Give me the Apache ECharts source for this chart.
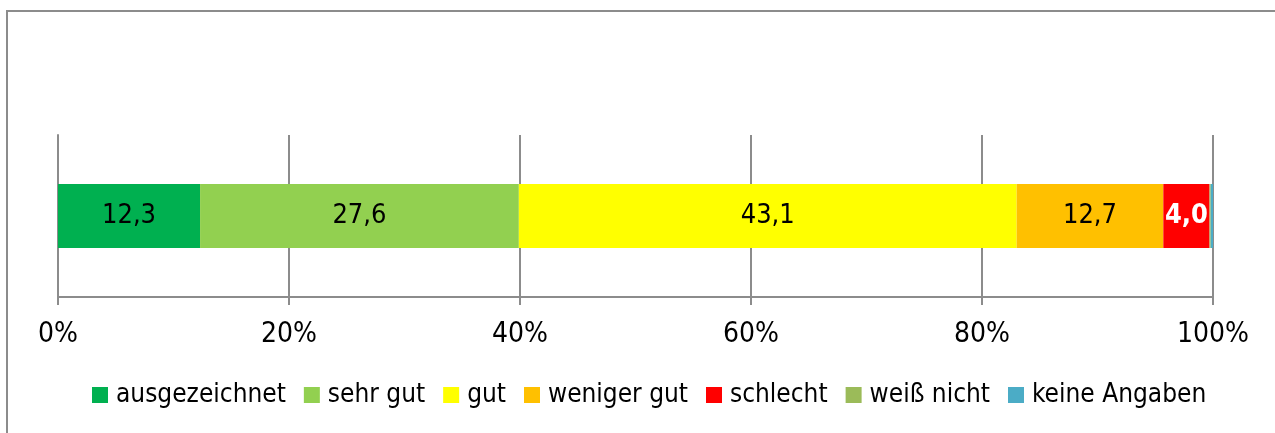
<!DOCTYPE html>
<html>
<head>
<meta charset="utf-8">
<script src="https://cdn.jsdelivr.net/npm/echarts@6/dist/echarts.min.js"></script>
<style>
  html, body { margin: 0; padding: 0; background: #fff; }
  #frame { position: absolute; left: 6px; top: 10px; width: 1275px; height: 440px; border: 2px solid #8c8c8c; box-sizing: border-box; }
  #chart { position: absolute; left: 0; top: 0; width: 1275px; height: 433px; }
</style>
</head>
<body>
<div id="frame"></div>
<div id="chart"></div>
<script>
  // Bewertung, Anteile in Prozent
  const categories = ['Gesamt']
  const seriesNames = ['ausgezeichnet', 'sehr gut', 'gut', 'weniger gut', 'schlecht', 'weiß nicht', 'keine Angaben']
  const seriesValues = [12.3, 27.6, 43.1, 12.7, 4.0, 0.1, 0.2]
  const seriesColors = ['#00b050', '#92d050', '#ffff00', '#ffc000', '#ff0000', '#9bbb59', '#4bacc6']
  const tickLabels = ['0%', '20%', '40%', '60%', '80%', '100%']

  const font = "'Liberation Sans Narrow', 'DejaVu Sans Condensed', sans-serif"
  const chart = echarts.init(document.getElementById('chart'), null, {renderer: 'canvas'})

  const series = seriesNames.map((name, i) => ({
    name: name,
    type: 'bar',
    stack: 'total',
    barWidth: 64,
    itemStyle: {color: seriesColors[i]},
    label: {
      show: seriesValues[i] >= 1,
      position: 'inside',
      fontFamily: font,
      fontSize: 27,
      color: name === 'schlecht' ? '#fff' : '#000',
      fontWeight: name === 'schlecht' ? 'bold' : 'normal',
      formatter: p => p.value.toFixed(1).replace('.', ',')
    },
    data: [seriesValues[i]]
  }))

  chart.setOption({
    animation: false,
    grid: {left: 58, right: 62, top: 135, bottom: 136},
    xAxis: {
      type: 'value',
      min: 0,
      max: 100,
      interval: 20,
      axisLine: {show: true, lineStyle: {color: '#8c8c8c', width: 2}},
      axisTick: {show: true, length: 8, lineStyle: {color: '#8c8c8c', width: 2}},
      splitLine: {show: true, lineStyle: {color: '#8c8c8c', width: 2}},
      axisLabel: {
        fontFamily: font,
        fontSize: 28,
        color: '#000',
        margin: 24,
        formatter: v => tickLabels[v / 20]
      }
    },
    yAxis: {
      type: 'category',
      data: categories,
      axisLine: {show: true, lineStyle: {color: '#8c8c8c', width: 2}},
      axisTick: {show: false},
      axisLabel: {show: false}
    },
    legend: {
      bottom: 20,
      left: 87,
      itemWidth: 16,
      itemHeight: 16,
      itemGap: 18,
      icon: 'rect',
      textStyle: {fontFamily: font, fontSize: 26, color: '#000', padding: [0, 0, 0, 3]},
      data: seriesNames
    },
    series: series
  })
</script>
</body>
</html>
